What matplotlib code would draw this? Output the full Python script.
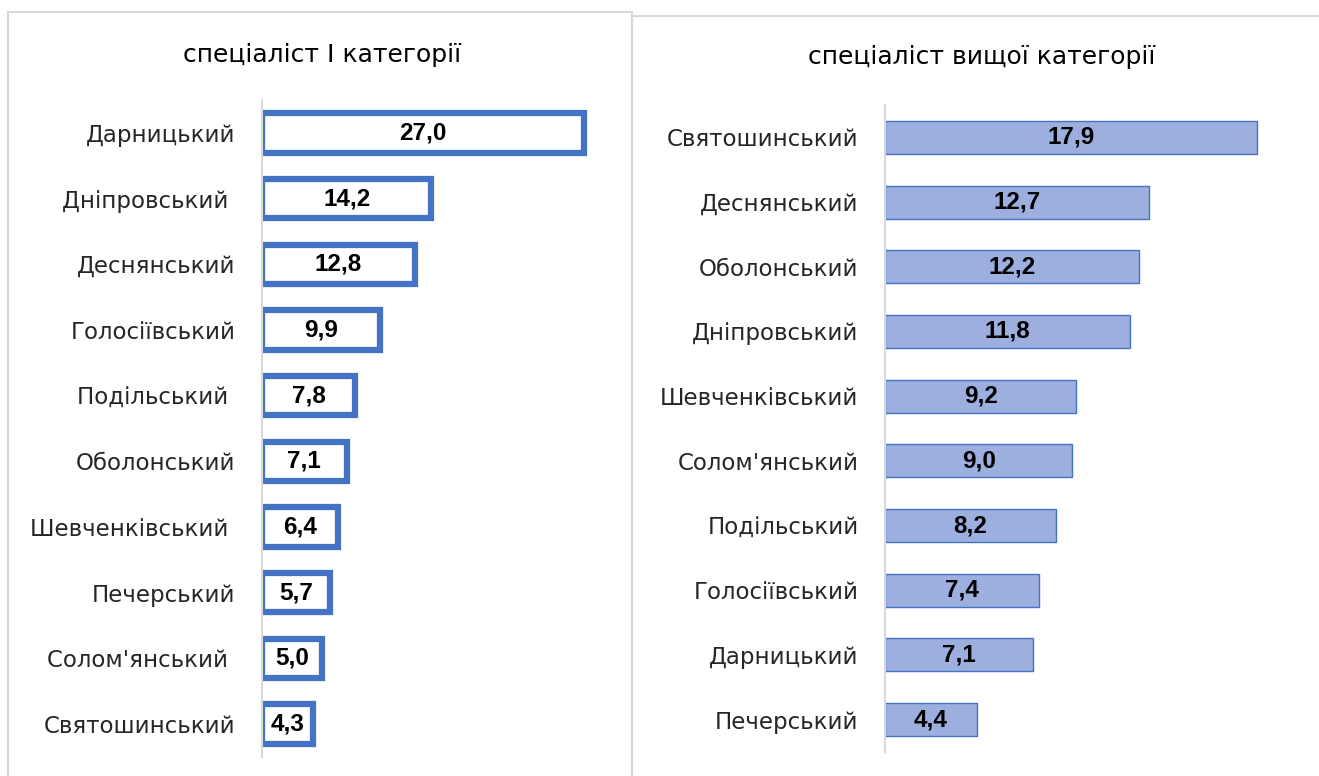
import matplotlib.pyplot as plt
from matplotlib.patches import Rectangle

# спеціаліст I категорії
left_districts = ["Дарницький", "Дніпровський ", "Деснянський", "Голосіївський", "Подільський ",
                  "Оболонський", "Шевченківський ", "Печерський", "Солом'янський ", "Святошинський"]
left_values = [27.0, 14.2, 12.8, 9.9, 7.8, 7.1, 6.4, 5.7, 5.0, 4.3]

# спеціаліст вищої категорії
right_districts = ["Святошинський", "Деснянський", "Оболонський", "Дніпровський", "Шевченківський",
                   "Солом'янський", "Подільський", "Голосіївський", "Дарницький", "Печерський"]
right_values = [17.9, 12.7, 12.2, 11.8, 9.2, 9.0, 8.2, 7.4, 7.1, 4.4]

left_title = "спеціаліст I категорії"
right_title = "спеціаліст вищої категорії"

W, H = 1319, 776
plt.rcParams["font.family"] = ["DejaVu Sans"]
fig = plt.figure(figsize=(W / 100, H / 100), dpi=100)


def fig_box(x0, y0, x1, y1):
    # pixel box (top-left origin) -> figure fraction [l, b, w, h]
    return [x0 / W, 1 - y1 / H, (x1 - x0) / W, (y1 - y0) / H]


# panel borders
fig.patches.append(Rectangle((8 / W, -0.1), (632 - 8) / W, 1.1 - 12 / H, transform=fig.transFigure,
                             fill=False, edgecolor="#d9d9d9", linewidth=1.5))
fig.patches.append(Rectangle((632 / W, -0.1), 1.0, 1.1 - 16 / H, transform=fig.transFigure,
                             fill=False, edgecolor="#d9d9d9", linewidth=1.5))


def draw_panel(box, names, values, xmax, width, style):
    ax = fig.add_axes(box)
    y = list(range(len(names)))
    if style == "outline":
        bars = ax.barh(y, values, height=width, color="white", edgecolor="#4472c4", linewidth=4.5)
    else:
        bars = ax.barh(y, values, height=width, color="#9dafdf", edgecolor="#4472c4", linewidth=1.0)
    for b, v in zip(bars, values):
        ax.text(b.get_x() + b.get_width() / 2, b.get_y() + b.get_height() / 2,
                f"{v:.1f}".replace(".", ","), ha="center", va="center",
                fontsize=17.5, fontweight="bold", family="Liberation Sans", fontstretch="normal",
                color="black")
    ax.set_yticks(y)
    ax.set_yticklabels(names, fontsize=16.5, color="#262626")
    ax.set_ylim(len(names) - 0.5, -0.5)
    ax.set_xlim(0, xmax)
    ax.set_xticks([])
    ax.tick_params(axis="y", length=0, pad=19)
    for side in ["top", "right", "bottom"]:
        ax.spines[side].set_visible(False)
    ax.spines["left"].set_color("#d9d9d9")
    ax.spines["left"].set_linewidth(1.5)
    return ax


draw_panel(fig_box(262, 100, 620, 757), left_districts, left_values, 30, 0.6, "outline")
draw_panel(fig_box(885, 105, 1301, 752), right_districts, right_values, 20, 0.51, "fill")

fig.text(322 / W, 1 - 55 / H, left_title, ha="center", va="center", fontsize=18, color="black")
fig.text(982 / W, 1 - 57 / H, right_title, ha="center", va="center", fontsize=18, color="black")

fig.savefig("out.png", dpi=100, facecolor="white")
